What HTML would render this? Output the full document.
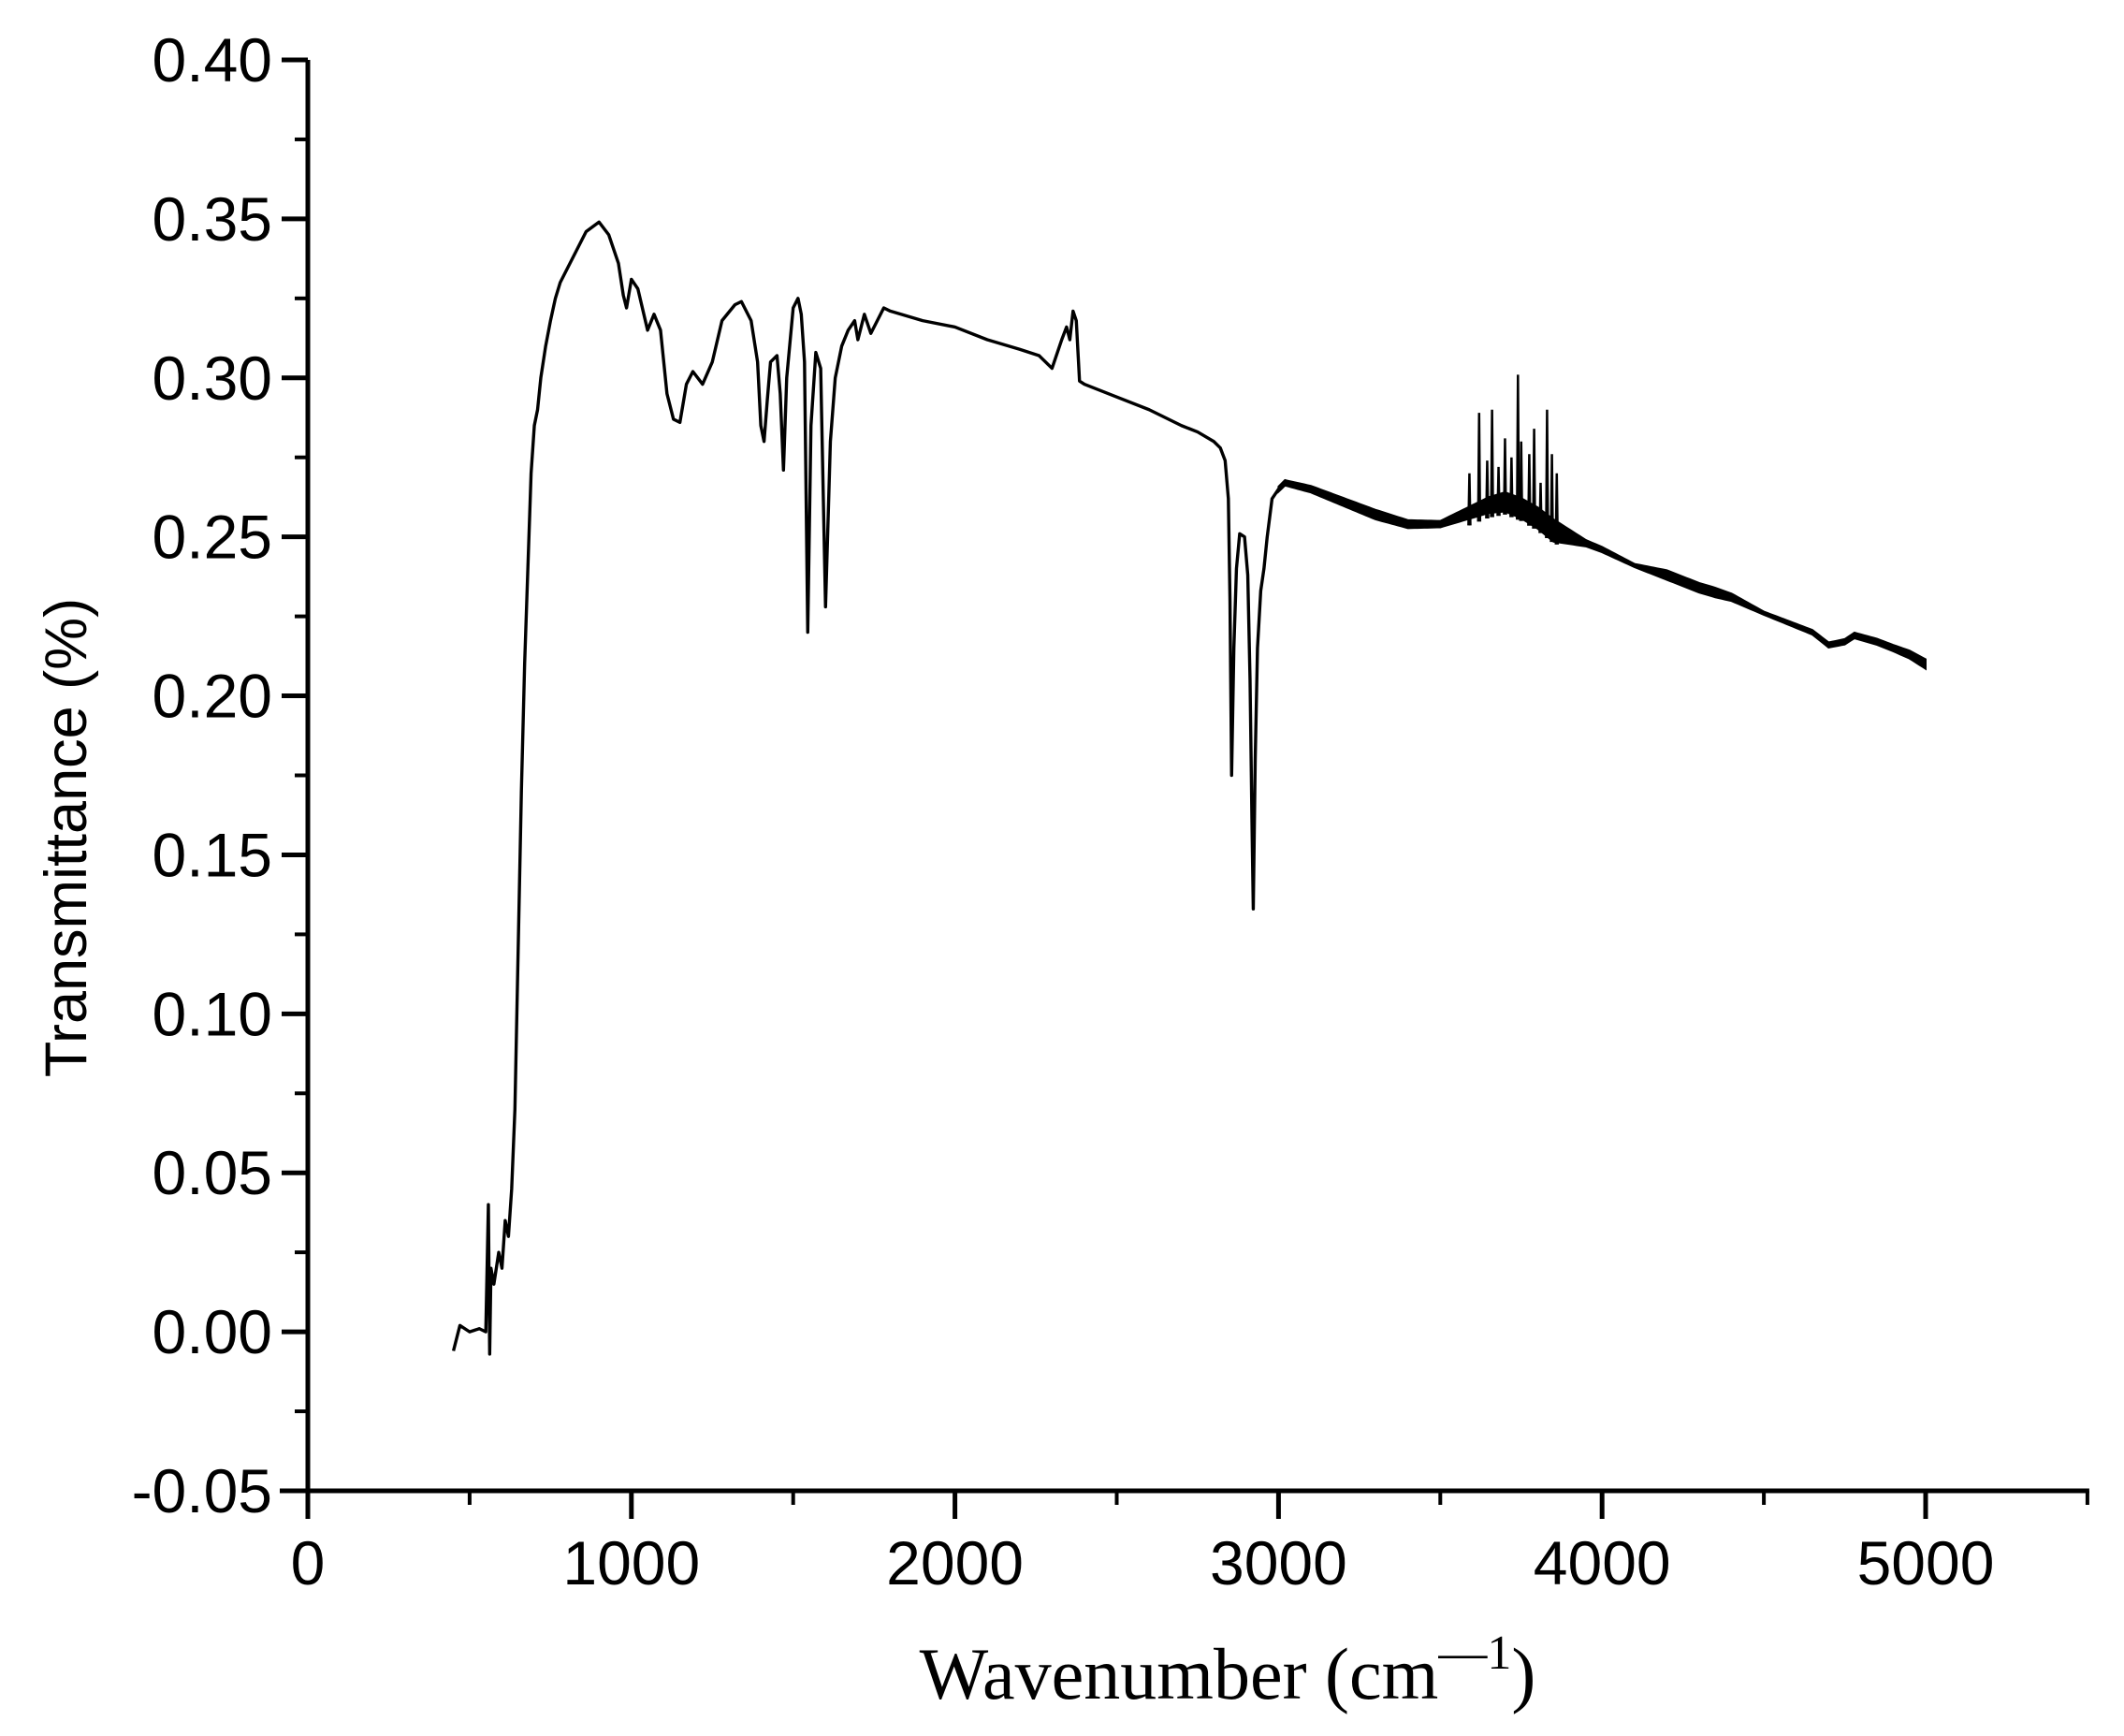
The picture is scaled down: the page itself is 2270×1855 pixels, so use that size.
<!DOCTYPE html>
<html><head><meta charset="utf-8"><style>
html,body{margin:0;padding:0;background:#fff;}
svg{display:block;}
</style></head><body>
<svg id="chart" width="2270" height="1855" viewBox="0 0 2270 1855" xmlns="http://www.w3.org/2000/svg">
<g id="axes"></g>
<g id="plot"></g>
<text x="0" y="0" transform="translate(92,895) rotate(-90)" text-anchor="middle" font-family="Liberation Sans, sans-serif" font-size="63">Transmittance (%)</text>
<text x="1312" y="1815" text-anchor="middle" font-family="Liberation Serif, serif" font-size="78">Wavenumber (cm<tspan font-size="52" dy="-32">—1</tspan><tspan dy="32">)</tspan></text>
</svg>
<script>
const xTicks = [0,1000,2000,3000,4000,5000];
const xTickLabels = ["0","1000","2000","3000","4000","5000"];
const yTicks = [-0.05,0,0.05,0.10,0.15,0.20,0.25,0.30,0.35,0.40];
const yTickLabels = ["-0.05","0.00","0.05","0.10","0.15","0.20","0.25","0.30","0.35","0.40"];
const wavenumbers = [450,470,500,530,550,558,562,566,575,590,600,610,620,630,640,650,660,670,680,690,700,710,720,735,750,765,780,800,830,860,900,930,960,975,985,1000,1020,1050,1070,1090,1110,1130,1150,1170,1190,1220,1250,1280,1320,1340,1370,1390,1400,1410,1420,1430,1450,1460,1470,1480,1500,1515,1525,1535,1545,1555,1570,1585,1600,1615,1630,1650,1670,1690,1700,1720,1740,1760,1780,1800,1900,2000,2100,2200,2260,2300,2330,2345,2355,2365,2375,2385,2400,2500,2600,2700,2750,2800,2820,2835,2845,2850,2855,2862,2870,2880,2895,2905,2912,2918,2922,2928,2935,2945,2955,2965,2980,3000,3020,3100,3200,3300,3400,3500,3550,3600,3650,3700,3750,3800,3850,3900,3950,4000,4100,4200,4300,4400,4500,4600,4650,4700,4750,4780,4850,4950,5000];
const transmittance = [-0.006,0.002,0.0,0.001,0.0,0.04,-0.007,0.02,0.015,0.025,0.02,0.035,0.03,0.045,0.07,0.12,0.17,0.21,0.24,0.27,0.285,0.29,0.30,0.31,0.318,0.325,0.33,0.334,0.34,0.346,0.349,0.345,0.336,0.326,0.322,0.331,0.328,0.315,0.320,0.315,0.295,0.287,0.286,0.298,0.302,0.298,0.305,0.318,0.323,0.324,0.318,0.305,0.285,0.280,0.293,0.305,0.307,0.295,0.271,0.300,0.322,0.325,0.320,0.305,0.220,0.285,0.308,0.303,0.228,0.28,0.300,0.310,0.315,0.318,0.312,0.320,0.314,0.318,0.322,0.321,0.318,0.316,0.312,0.309,0.307,0.303,0.312,0.316,0.312,0.321,0.318,0.299,0.298,0.294,0.290,0.285,0.283,0.280,0.278,0.274,0.262,0.230,0.175,0.215,0.240,0.251,0.250,0.238,0.205,0.160,0.133,0.180,0.215,0.233,0.240,0.250,0.262,0.265,0.267,0.265,0.261,0.257,0.254,0.254,0.256,0.258,0.260,0.261,0.259,0.256,0.252,0.250,0.248,0.246,0.241,0.238,0.234,0.231,0.226,0.222,0.220,0.216,0.217,0.219,0.217,0.213,0.210];
const spikeWavenumbers = [3590,3620,3645,3660,3680,3700,3720,3740,3750,3775,3790,3810,3830,3845,3860];
const spikePeaks = [0.270,0.289,0.274,0.290,0.272,0.281,0.275,0.301,0.280,0.276,0.284,0.267,0.290,0.276,0.270];
const noiseWavenumbers = [3000,3300,3500,3600,3700,3850,3950,4100,4200,4350,4500,4700,4900,5000];
const noiseAmplitude = [0.0008,0.0015,0.001,0.002,0.003,0.0035,0.001,0.0005,0.0015,0.0015,0.0005,0.0008,0.001,0.0015];

const X0=329, X1=2058, YT=64, YB=1593;
const xs = v => X0 + (v/5000)*(X1-X0);
const ys = v => YB - ((v+0.05)/0.45)*(YB-YT);
const NS="http://www.w3.org/2000/svg";
const axesG=document.getElementById('axes'), plotG=document.getElementById('plot');
function mk(tag, attrs, parent){const e=document.createElementNS(NS,tag);for(const k in attrs)e.setAttribute(k,attrs[k]);parent.appendChild(e);return e;}
function interp(arrX, arrY, w){for(let i=0;i<arrX.length-1;i++){if(w>=arrX[i]&&w<=arrX[i+1]){const t=(w-arrX[i])/(arrX[i+1]-arrX[i]);return arrY[i]+t*(arrY[i+1]-arrY[i]);}}return w<arrX[0]?arrY[0]:arrY[arrY.length-1];}

let ln=mk('line',{x1:X0,y1:YT,x2:X0,y2:YB+30,stroke:'#000','stroke-width':5},axesG);


ln=mk('line',{x1:X0-30,y1:YB,x2:xs(5500)+2,y2:YB,stroke:'#000','stroke-width':5},axesG);


yTicks.forEach((v,i)=>{
  const t=mk('line',{x1:X0-28,y1:ys(v),x2:X0,y2:ys(v),stroke:'#000','stroke-width':5},axesG);
  
  
  const tx=mk('text',{x:X0-38,y:ys(v)+23,'text-anchor':'end','font-family':'Liberation Sans, sans-serif','font-size':66},axesG);
  tx.textContent=yTickLabels[i];
  
  
  if(i<yTicks.length-1){
    const m=mk('line',{x1:X0-14,y1:ys(v+0.025),x2:X0,y2:ys(v+0.025),stroke:'#000','stroke-width':4},axesG);
    
    
  }
});
xTicks.forEach((v,i)=>{
  const t=mk('line',{x1:xs(v),y1:YB,x2:xs(v),y2:YB+30,stroke:'#000','stroke-width':5},axesG);
  
  
  const tx=mk('text',{x:xs(v),y:YB+100,'text-anchor':'middle','font-family':'Liberation Sans, sans-serif','font-size':66},axesG);
  tx.textContent=xTickLabels[i];
  
  
  const m=mk('line',{x1:xs(v+500),y1:YB,x2:xs(v+500),y2:YB+15,stroke:'#000','stroke-width':4},axesG);
  
  
});
let bandTop=[],bandBot=[];
for(let w=3000;w<=5000;w+=10){const y=interp(wavenumbers,transmittance,w),a=interp(noiseWavenumbers,noiseAmplitude,w);bandTop.push(xs(w)+','+ys(y+a));bandBot.unshift(xs(w)+','+ys(y-a));}
const band=mk('polygon',{points:bandTop.concat(bandBot).join(' '),fill:'#000',stroke:'#000','stroke-width':2},plotG);


const pts=wavenumbers.map((w,i)=>xs(w)+','+ys(transmittance[i])).join(' ');
const pl=mk('polyline',{points:pts,fill:'none',stroke:'#000','stroke-width':3.4,'stroke-linejoin':'round'},plotG);


spikeWavenumbers.forEach((w,i)=>{
  const base=interp(wavenumbers,transmittance,w);
  const s=mk('polyline',{points:`${xs(w-3)},${ys(base-0.004)} ${xs(w)},${ys(spikePeaks[i])} ${xs(w+3)},${ys(base-0.004)}`,fill:'none',stroke:'#000','stroke-width':2.5},plotG);
  
  
});
</script>
</body></html>
